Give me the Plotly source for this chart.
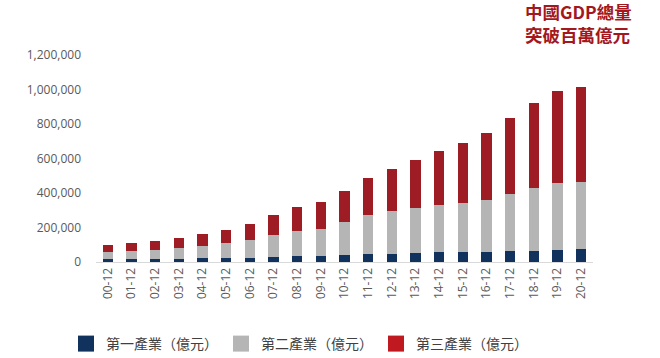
import plotly.graph_objects as go

categories = ["00-12", "01-12", "02-12", "03-12", "04-12", "05-12", "06-12", "07-12",
              "08-12", "09-12", "10-12", "11-12", "12-12", "13-12", "14-12", "15-12",
              "16-12", "17-12", "18-12", "19-12", "20-12"]
primary = [14717, 15502, 16190, 16970, 20904, 21806, 23317, 27674, 32464, 33584, 38430,
           44781, 49085, 53028, 55626, 57774, 60139, 62100, 64745, 70467, 77754]
secondary = [45664, 49660, 54105, 62697, 74286, 88082, 104359, 126630, 149952, 160168, 191626,
             227035, 244639, 261956, 277572, 282040, 296548, 332743, 364835, 386165, 384255]
tertiary = [39898, 45700, 51422, 57756, 66648, 77430, 91759, 115810, 136806, 154748, 182038,
            216120, 244856, 277979, 310654, 349745, 390828, 438356, 489701, 534233, 553977]
series_names = ["第一產業（億元）", "第二產業（億元）", "第三產業（億元）"]
y_ticks = [0, 200000, 400000, 600000, 800000, 1000000, 1200000]
title_lines = ["中國GDP總量", "突破百萬億元"]

bar_colors = ["#12325E", "#B5B5B5", "#9E1C23"]
legend_colors = ["#12325E", "#B5B5B5", "#C0191F"]

fig = go.Figure()
for name, vals, c in zip(series_names, [primary, secondary, tertiary], bar_colors):
    fig.add_trace(go.Bar(x=categories, y=vals, name=name, marker=dict(color=c, line=dict(width=0)),
                         showlegend=False))
for name, c in zip(series_names, legend_colors):
    fig.add_trace(go.Scatter(x=[None], y=[None], mode="markers", name=name,
                             marker=dict(symbol="square", size=16, color=c, line=dict(width=0))))

PL, PW, PT, PH = 96, 497, 55, 207
annotations = []
for line, cy in zip(title_lines, [12, 34]):
    annotations.append(dict(text=line, xref="paper", yref="paper",
                            x=(524 - PL) / PW, y=1 + (PT - cy) / PH, xanchor="left", yanchor="middle",
                            showarrow=False, align="left", borderpad=0,
                            font=dict(size=17.5, color="#A3171D", family="Noto Sans CJK TC, sans-serif",
                                      weight="bold")))

fig.update_layout(
    width=660, height=358,
    margin=dict(l=PL, r=660 - PL - PW, t=PT, b=358 - PT - PH, autoexpand=False),
    paper_bgcolor="white", plot_bgcolor="white",
    barmode="stack", bargap=0.57,
    font=dict(family="Open Sans, Noto Sans CJK TC, sans-serif", color="#595959", size=12),
    showlegend=True,
    legend=dict(orientation="h", xref="container", yref="container",
                x=0.1, xanchor="left", y=(358 - 344) / 358, yanchor="middle",
                entrywidth=110, itemsizing="trace", traceorder="normal",
                font=dict(size=14, color="#404040", family="Noto Sans CJK TC, sans-serif"),
                bgcolor="rgba(0,0,0,0)"),
    xaxis=dict(type="category", tickangle=-90, showgrid=False, showline=True, linecolor="#D9D9D9",
               linewidth=1, ticks="", tickfont=dict(size=12, color="#595959")),
    yaxis=dict(range=[0, 1200000], tickvals=y_ticks, tickformat=",", showgrid=False,
               zeroline=False, showline=False, ticks="", ticklabelstandoff=14,
               tickfont=dict(size=12, color="#595959")),
    annotations=annotations,
)

fig.write_html("out.html", config={"displayModeBar": False},
               post_script="document.body.style.margin='0';")
